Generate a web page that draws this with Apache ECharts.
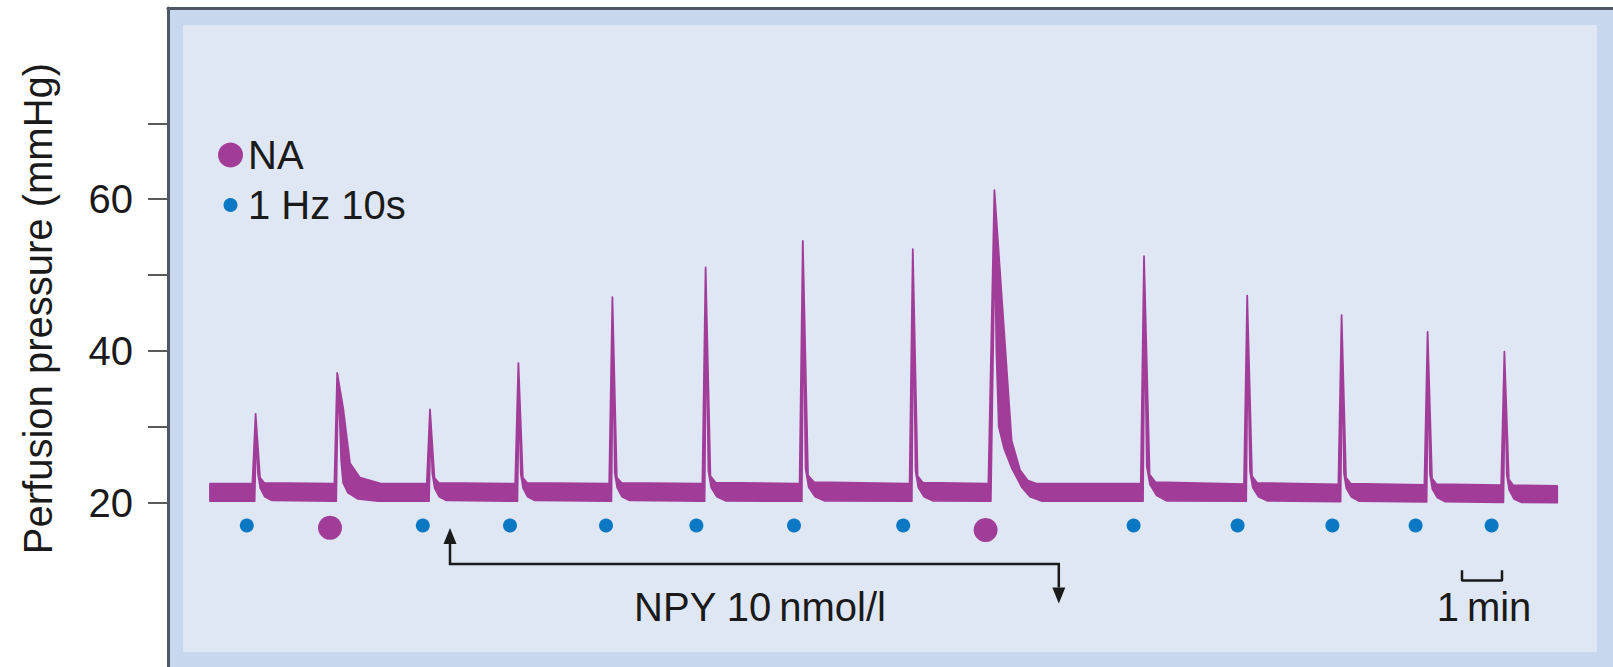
<!DOCTYPE html>
<html>
<head>
<meta charset="utf-8">
<script src="https://cdn.jsdelivr.net/npm/echarts@6/dist/echarts.min.js"></script>
<style>
html,body{margin:0;padding:0;background:#ffffff;}
#chart{width:1613px;height:667px;}
</style>
</head>
<body>
<div id="chart"></div>
<script>
// ---- data (time in minutes, pressure in mmHg) ----
const yTickValues = [20, 30, 40, 50, 60, 70];
const yLabelValues = [20, 40, 60];

// upper edge of the recorded pen trace
const upperTrace = [
  [1.00, 22.5],
  [2.06, 22.5], [2.14, 31.7], [2.25, 23.3], [2.36, 22.6],
  [4.11, 22.5], [4.18, 37.1], [4.33, 32.4], [4.50, 25.2], [4.75, 23.3], [5.25, 22.55],
  [6.42, 22.5], [6.50, 32.3], [6.61, 23.3], [6.72, 22.6],
  [8.63, 22.5], [8.71, 38.4], [8.82, 23.3], [8.93, 22.6],
  [10.98, 22.5], [11.06, 47.1], [11.17, 23.3], [11.29, 22.6],
  [13.31, 22.5], [13.39, 51.0], [13.51, 23.5], [13.64, 22.65],
  [15.74, 22.5], [15.82, 54.5], [15.95, 23.6], [16.10, 22.7],
  [18.49, 22.5], [18.57, 53.4], [18.69, 23.5], [18.82, 22.65],
  [20.46, 22.5], [20.61, 61.2], [21.04, 28.2], [21.25, 24.3], [21.45, 22.9], [21.67, 22.5],
  [24.27, 22.5], [24.35, 52.5], [24.49, 23.7], [24.64, 22.7],
  [26.85, 22.45], [26.93, 47.3], [27.05, 23.5], [27.18, 22.6],
  [29.21, 22.4], [29.29, 44.7], [29.40, 23.3], [29.52, 22.5],
  [31.36, 22.35], [31.44, 42.5], [31.55, 23.2], [31.66, 22.45],
  [33.28, 22.3], [33.36, 39.9], [33.47, 23.1], [33.58, 22.3],
  [34.68, 22.2]
];
// lower edge of the recorded pen trace
const lowerTrace = [
  [1.00, 20.2],
  [2.06, 20.2], [2.115, 20.2], [2.155, 29.8], [2.20, 23.8], [2.26, 21.9], [2.37, 20.8], [2.55, 20.3],
  [4.11, 20.2], [4.155, 20.2], [4.20, 35.2], [4.24, 31.5], [4.28, 25.5], [4.33, 22.6], [4.45, 21.3], [4.70, 20.5], [5.20, 20.2],
  [6.42, 20.2], [6.475, 20.2], [6.515, 30.2], [6.56, 23.8], [6.62, 21.9], [6.73, 20.8], [6.91, 20.3],
  [8.63, 20.2], [8.685, 20.2], [8.725, 35.1], [8.77, 23.8], [8.83, 21.9], [8.94, 20.8], [9.12, 20.3],
  [10.98, 20.2], [11.035, 20.2], [11.075, 42.1], [11.12, 23.9], [11.18, 22.0], [11.30, 20.8], [11.49, 20.3],
  [13.31, 20.2], [13.365, 20.2], [13.405, 45.2], [13.46, 24.2], [13.53, 22.0], [13.67, 20.8], [13.89, 20.25],
  [15.74, 20.2], [15.795, 20.2], [15.835, 48.0], [15.89, 24.5], [15.97, 22.0], [16.13, 20.8], [16.37, 20.25],
  [18.49, 20.2], [18.545, 20.2], [18.585, 47.1], [18.64, 24.2], [18.71, 22.0], [18.85, 20.8], [19.07, 20.25],
  [20.46, 20.2], [20.52, 20.2], [20.62, 55.0], [20.66, 40.0], [20.72, 30.0], [20.85, 27.2], [21.05, 24.5], [21.30, 22.0], [21.50, 20.8], [21.80, 20.2],
  [24.27, 20.2], [24.325, 20.2], [24.365, 46.4], [24.42, 24.8], [24.50, 22.4], [24.66, 21.0], [24.91, 20.25],
  [26.85, 20.2], [26.905, 20.2], [26.945, 42.2], [27.00, 24.2], [27.07, 22.0], [27.21, 20.8], [27.43, 20.25],
  [29.21, 20.15], [29.265, 20.15], [29.305, 40.2], [29.35, 23.9], [29.41, 21.9], [29.53, 20.8], [29.73, 20.2],
  [31.36, 20.1], [31.415, 20.1], [31.455, 38.4], [31.50, 23.8], [31.56, 21.8], [31.68, 20.7], [31.87, 20.15],
  [33.28, 20.05], [33.335, 20.05], [33.375, 36.3], [33.42, 23.7], [33.48, 21.7], [33.60, 20.5], [33.79, 20.05],
  [34.68, 20.0]
];

// markers below the trace
const stimulusDots = [
  [1.92, 17.0], [6.32, 17.0], [8.50, 17.0], [10.90, 17.0], [13.16, 17.0], [15.60, 17.0],
  [18.33, 17.0], [24.09, 17.0], [26.69, 17.0], [29.06, 17.0], [31.14, 17.0], [33.04, 17.0]
];
const naDots = [[4.00, 16.7], [20.39, 16.4]];

// annotations
const npyArrow = [[7.00, 16.67], [7.00, 11.92], [22.22, 11.92], [22.22, 6.72]];
const scaleBar = [[32.30, 11.1], [32.30, 9.75], [33.30, 9.75], [33.30, 11.1]];
const annotationTexts = ['NPY 10\u2009nmol/l', '1\u2009min'];
const annotationPositions = [[14.75, 6.25], [32.85, 6.25]];

// ---- chart ----
const FONT = "'Liberation Sans', Arial, Helvetica, sans-serif";
const PURPLE = '#a13c99';
const BLUE = '#0b78c4';
const DARK = '#1a1a1a';

const chart = echarts.init(document.getElementById('chart'), null, { renderer: 'svg' });

function arrowRender(params, api) {
  const pts = npyArrow.map(p => api.coord(p));
  const headLen = 16, half = 6.5;
  function head(tip, from) {
    const dx = tip[0] - from[0], dy = tip[1] - from[1];
    const len = Math.hypot(dx, dy) || 1;
    const ux = dx / len, uy = dy / len;
    const bx = tip[0] - ux * headLen, by = tip[1] - uy * headLen;
    return { poly: [[tip[0], tip[1]], [bx - uy * half, by + ux * half], [bx + uy * half, by - ux * half]], base: [bx, by] };
  }
  const h1 = head(pts[0], pts[1]);
  const n = pts.length;
  const h2 = head(pts[n - 1], pts[n - 2]);
  const linePts = [h1.base].concat(pts.slice(1, n - 1), [h2.base]);
  return {
    type: 'group',
    children: [
      { type: 'polyline', shape: { points: linePts }, style: { stroke: DARK, lineWidth: 2.5, fill: null } },
      { type: 'polygon', shape: { points: h1.poly }, style: { fill: DARK } },
      { type: 'polygon', shape: { points: h2.poly }, style: { fill: DARK } }
    ]
  };
}

function traceRender(params, api) {
  const pts = upperTrace.map(p => api.coord(p))
    .concat(lowerTrace.slice().reverse().map(p => api.coord(p)));
  return { type: 'polygon', shape: { points: pts }, style: { fill: PURPLE, stroke: PURPLE, lineWidth: 1.8, lineJoin: 'round' } };
}

function textRender(params, api) {
  const c = api.coord([api.value(0), api.value(1)]);
  return {
    type: 'text', x: c[0], y: c[1],
    style: {
      text: annotationTexts[params.dataIndex], fill: DARK, fontSize: 40, fontFamily: FONT,
      align: 'center', verticalAlign: 'middle', textAlign: 'center', textVerticalAlign: 'middle'
    }
  };
}

const option = {
  backgroundColor: '#ffffff',
  animation: false,
  textStyle: { fontFamily: FONT },
  graphic: [
    { type: 'rect', z: -10, silent: true, shape: { x: 169.5, y: 9.5, width: 1444, height: 658 }, style: { fill: '#c7d7ed' } },
    { type: 'rect', z: -9, silent: true, shape: { x: 183, y: 25, width: 1414, height: 627 }, style: { fill: '#dfe7f4' } }
  ],
  grid: { left: 168, right: 0, top: 8, bottom: 0, containLabel: false },
  legend: [
    {
      data: ['NA'], left: 213, top: 130, orient: 'vertical', icon: 'circle',
      itemWidth: 25, itemHeight: 25, selectedMode: false,
      textStyle: { fontSize: 40, color: DARK, fontFamily: FONT }
    },
    {
      data: ['1 Hz 10s'], left: 218.5, top: 180, orient: 'vertical', icon: 'circle',
      itemWidth: 14, itemHeight: 14, selectedMode: false,
      textStyle: { fontSize: 40, color: DARK, fontFamily: FONT, padding: [0, 0, 0, 5.5] }
    }
  ],
  xAxis: {
    type: 'value', position: 'top', min: -0.05, max: 36.075,
    axisLine: { show: true, onZero: false, lineStyle: { color: '#4f5763', width: 3 } },
    axisTick: { show: false }, axisLabel: { show: false }, splitLine: { show: false }
  },
  yAxis: {
    type: 'value', min: -1.653, max: 85.195,
    name: 'Perfusion pressure (mmHg)', nameLocation: 'middle', nameGap: 110,
    nameTextStyle: { fontSize: 40, color: DARK, fontFamily: FONT, padding: [0, 0, 0, 58] },
    axisLine: { show: true, onZero: false, lineStyle: { color: '#4f5763', width: 3 } },
    axisTick: { show: true, customValues: yTickValues, length: 20, lineStyle: { color: '#5a5a5a', width: 2 } },
    axisLabel: { show: true, customValues: yLabelValues, margin: 35, fontSize: 40, color: DARK, fontFamily: FONT },
    splitLine: { show: false }
  },
  series: [
    { type: 'custom', name: 'trace', coordinateSystem: 'cartesian2d', silent: true, z: 3,
      data: [upperTrace[0]], renderItem: traceRender },
    { type: 'scatter', name: '1 Hz 10s', data: stimulusDots, symbol: 'circle', symbolSize: 14,
      itemStyle: { color: BLUE, opacity: 1 }, silent: true, z: 4 },
    { type: 'scatter', name: 'NA', data: naDots, symbol: 'circle', symbolSize: 24,
      itemStyle: { color: PURPLE, opacity: 1 }, silent: true, z: 4 },
    { type: 'custom', name: 'npyArrow', coordinateSystem: 'cartesian2d', silent: true, z: 4,
      data: [npyArrow[0]], renderItem: arrowRender },
    { type: 'line', name: 'scaleBar', data: scaleBar, symbol: 'none', silent: true, z: 4,
      lineStyle: { color: DARK, width: 2.5 } },
    { type: 'custom', name: 'annotations', coordinateSystem: 'cartesian2d', silent: true, z: 5,
      data: annotationPositions, renderItem: textRender }
  ]
};
chart.setOption(option);
</script>
</body>
</html>
